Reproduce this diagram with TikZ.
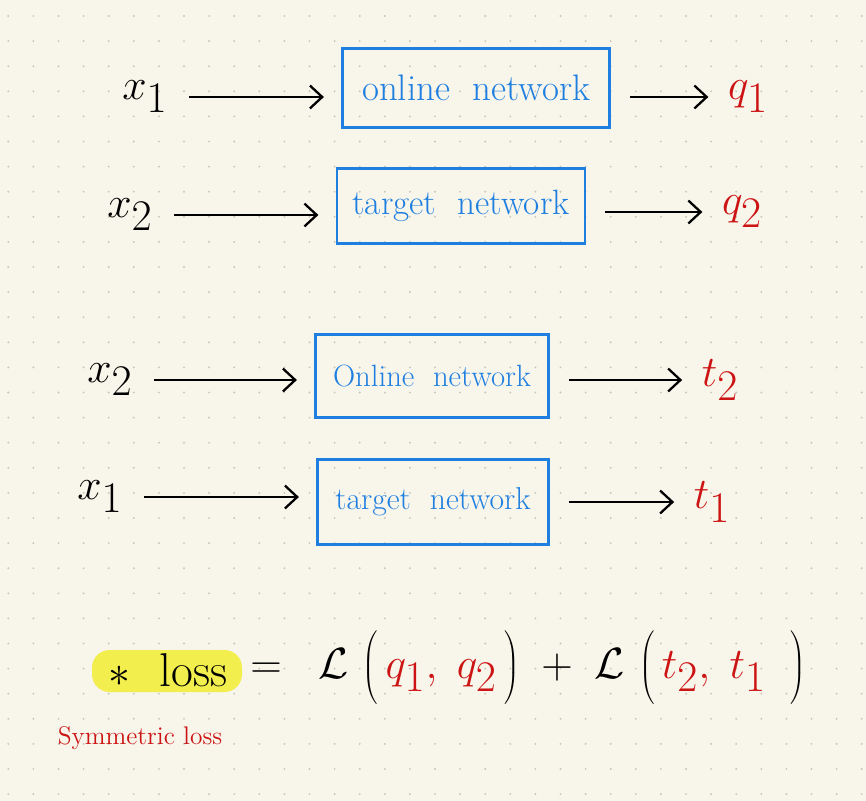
\documentclass[tikz,border=0pt]{standalone}
\usetikzlibrary{arrows.meta}
\definecolor{bgc}{HTML}{F8F5EA}
\definecolor{dotc}{HTML}{C9C7BD}
\definecolor{netblue}{HTML}{1E7FE0}
\definecolor{outred}{HTML}{CC1414}
\definecolor{hly}{HTML}{F2EE4E}
\newcommand{\bigstrut}{\rule[-17pt]{0pt}{46pt}}
\tikzset{
  net/.style={draw=netblue, line width=1.2pt, text=netblue, inner sep=0pt},
  var/.style={font=\fontsize{34}{38}\selectfont, inner sep=1pt},
  outv/.style={var, text=outred},
  arr/.style={draw=black, line width=1.3pt, -{Straight Barb[length=7pt,width=13pt,line width=1.3pt]}, shorten <=11pt, shorten >=10pt},
}
\begin{document}
\begin{tikzpicture}[x=0.02cm,y=-0.02cm]
\fill[bgc] (0,0) rectangle (866,801);
\useasboundingbox (0,0) rectangle (866,801);
\foreach \i in {0,...,34} \foreach \j in {0,...,31}
  \fill[dotc] (8.3+25.1*\i,16+25.1*\j) circle[radius=0.6pt];

% row 1
\node[var] (xa) at (145,97) {$x_1$};
\node[net, minimum width=5.34cm, minimum height=1.58cm, font=\fontsize{21}{24}\selectfont] (n1) at (476,88) {online\ \ network};
\node[outv] (qa) at (748,97) {$q_1$};
\draw[arr] (xa) -- (xa-|n1.west);
\draw[arr] (n1.east|-qa) -- (qa);

% row 2
\node[var] (xb) at (130,215) {$x_2$};
\node[net, minimum width=4.96cm, minimum height=1.50cm, font=\fontsize{20}{24}\selectfont] (n2) at (461,206) {target\ \ network};
\node[outv] (qb) at (742,212) {$q_2$};
\draw[arr] (xb) -- (xb-|n2.west);
\draw[arr] (n2.east|-qb) -- (qb);

% row 3
\node[var] (xc) at (110,380) {$x_2$};
\node[net, minimum width=4.66cm, minimum height=1.66cm, font=\fontsize{17.5}{22}\selectfont] (n3) at (432,376) {Online\ \ network};
\node[outv] (tb) at (720,380) {$t_2$};
\draw[arr] (xc) -- (xc-|n3.west);
\draw[arr] (n3.east|-tb) -- (tb);

% row 4
\node[var] (xd) at (100,497) {$x_1$};
\node[net, minimum width=4.62cm, minimum height=1.70cm, font=\fontsize{18}{22}\selectfont] (n4) at (433,502) {target\ \ network};
\node[outv] (ta) at (712,502) {$t_1$};
\draw[arr] (xd) -- (xd-|n4.west);
\draw[arr] (n4.east|-ta) -- (ta);

% loss
\fill[hly, rounded corners=10pt] (92,650) rectangle (242,692);
\node[font=\fontsize{27}{30}\selectfont, inner sep=0pt] (loss) at (168,670) {$\ast$\ \ loss};
\node[font=\fontsize{34}{38}\selectfont, inner sep=0pt, anchor=west] (eq) at (250,668)
  {$=\;\;\mathcal{L}\,\left(\bigstrut\,\textcolor{outred}{q_1,\;q_2}\,\right)\;+\;\mathcal{L}\,\left(\bigstrut\,\textcolor{outred}{t_2,\;t_1}\;\;\right)$};
\node[font=\fontsize{14.5}{17}\selectfont, text=outred, inner sep=0pt] (sym) at (140,738) {Symmetric loss};
\end{tikzpicture}
\end{document}
